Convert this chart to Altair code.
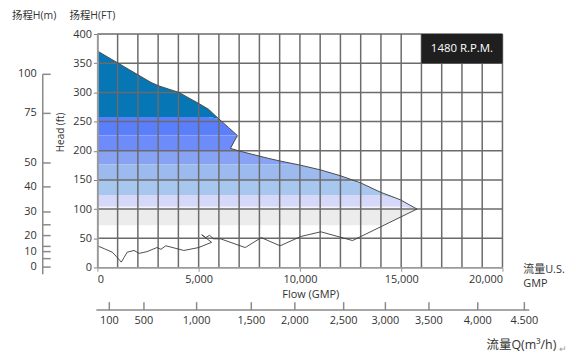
import altair as alt
import pandas as pd

# ---- data ----
# Head curve (upper boundary of shaded operating region), flow in US GPM, head in ft
head_flow = [0, 980, 2650, 3040, 4020, 5000, 5490, 5980, 6470, 6910, 6570, 7060,
             8430, 9070, 10050, 11030, 12010, 12990, 13970, 14950, 15780]
head_ft = [371, 351, 317, 311, 300, 281, 271, 255, 240, 226, 204, 199,
           187, 182, 175, 167, 157, 145, 129, 116, 100]
NOTCH = 10  # index of the point where the head curve turns back (the notch)

# Lower line (bottom boundary)
low_flow = [0, 340, 735, 930, 1180, 1320, 1470, 1810, 2060, 2450, 2940, 3140, 3380,
            4270, 5000, 5640, 5150, 5340, 5540, 5740, 6080, 7300, 8090, 9020,
            10050, 11030, 12600, 15780]
low_ft = [37, 32, 26, 19, 9, 17, 26, 29, 24, 27, 34, 31, 37,
          29, 34, 43, 56, 51, 55, 49, 49, 34, 51, 37,
          53, 61, 46, 100]

# Horizontal colour bands of the shaded region: lower edge (ft), upper edge (ft), colour
band_lo = [258, 226, 200, 177, 150, 124, 104, 100, 72, 0]
band_hi = [400, 258, 226, 200, 177, 150, 124, 104, 100, 72]
band_colors = ["#0676B5", "#5B7EFB", "#6E8BFA", "#88A2F4", "#9DBAEF",
               "#A8C7EE", "#D5D8F8", "#F4F4F8", "#ECECEC", "#FFFFFF"]

# Grid / tick values
x_grid = list(range(1000, 20001, 1000))
y_grid = list(range(50, 401, 50))
x_labels = list(range(0, 20001, 5000))
y_labels = list(range(0, 401, 50))

# Secondary head axis in metres (positions on the ft scale)
m_labels = ["100", "75", "50", "40", "30", "", "20", "", "10", "", "0"]
m_pos_ft = [331, 264, 179, 138, 95, 73, 54.5, 36, 27, 15, 0.5]

# Secondary flow axis in m3/h (positions on the GPM scale)
q_labels = ["100", "500", "1,000", "1,500", "2,000", "2,500", "3,000", "3,500", "4,000", "4.500"]
q_pos_gpm = [590, 2300, 4900, 7600, 9750, 12160, 14220, 16370, 18780, 21080]

# Speed box
rpm_text = "1480 R.P.M."
rpm_flow = [16000, 20000]
rpm_head = [350, 400]

FONT = "Open Sans, Noto Sans CJK SC"
TXT = "#333333"
GRID = "#6b6b6b"
AX = "#8a8a8a"

xs = alt.Scale(domain=[0, 20000], nice=False, zero=False)
ys = alt.Scale(domain=[0, 400], nice=False, zero=False)

# identical axis definitions used by every layer so that they merge cleanly
ax_x = alt.Axis(values=x_labels, labelExpr="format(datum.value, ',')", grid=False,
                title=None, zindex=1,
                domainColor="#9a9a9a", domainWidth=2, tickColor="#9a9a9a", tickSize=4,
                labelPadding=2, labelFontSize=11, labelColor=TXT, labelFont=FONT)
ax_y = alt.Axis(values=y_labels, grid=False, title=None, zindex=1,
                domainColor="#9a9a9a", domainWidth=2, tickColor="#808080", tickSize=4,
                labelPadding=2, labelFontSize=11, labelColor=TXT, labelFont=FONT)


def X(f):
    return alt.X(f, scale=xs, axis=ax_x)


def Y(f):
    return alt.Y(f, scale=ys, axis=ax_y)


head_df = pd.DataFrame({"flow": head_flow, "ft": head_ft, "i": range(len(head_flow))})
low_df = pd.DataFrame({"flow": low_flow, "ft": low_ft, "base": 0,
                       "i": range(len(low_flow))})

# coloured bands (x-monotone fill; notch point handled separately)
bands = []
for lo, hi, c in zip(band_lo, band_hi, band_colors):
    bands.append(
        alt.Chart(head_df).transform_filter(f"datum.i != {NOTCH}").transform_calculate(
            yt=f"min(datum.ft, {hi})", yb=f"min(datum.ft, {lo})"
        ).mark_area(fill=c, stroke=None, fillOpacity=1, opacity=1).encode(
            x=X("flow:Q"), y=Y("yt:Q"), y2="yb:Q",
        )
    )

# white wedge that opens the notch of the head curve
a, b, n = NOTCH - 1, NOTCH, NOTCH + 1
seg = lambda x: head_ft[b] + (head_ft[n] - head_ft[b]) * (x - head_flow[b]) / (head_flow[n] - head_flow[b])
wedge_df = pd.DataFrame({
    "flow": [head_flow[b], head_flow[a], head_flow[n]],
    "yt": [head_ft[b], head_ft[a], head_ft[n]],
    "yb": [head_ft[b], seg(head_flow[a]), head_ft[n]],
})
wedge = alt.Chart(wedge_df).mark_area(fill="white", fillOpacity=1, opacity=1).encode(
    x=X("flow:Q"), y=Y("yt:Q"), y2="yb:Q")

cover = alt.Chart(low_df).transform_filter("datum.i >= 20").mark_area(
    fill="white", fillOpacity=1, opacity=1
).encode(x=X("flow:Q"), y=Y("ft:Q"), y2="base:Q")

vgrid = alt.Chart(pd.DataFrame({"g": x_grid})).mark_rule(
    color=GRID, strokeWidth=1.5).encode(x=X("g:Q"))
hgrid = alt.Chart(pd.DataFrame({"g": y_grid})).mark_rule(
    color=GRID, strokeWidth=1.5).encode(y=Y("g:Q"))

top_line = alt.Chart(head_df).mark_line(color="#4a4a4a", strokeWidth=1).encode(
    x=X("flow:Q"), y=Y("ft:Q"), order=alt.Order("i:Q"))
low_line = alt.Chart(low_df).mark_line(color="#3a3a3a", strokeWidth=0.9).encode(
    x=X("flow:Q"), y=Y("ft:Q"), order=alt.Order("i:Q"))

rpm_df = pd.DataFrame({"x1": [rpm_flow[0]], "x2": [rpm_flow[1]],
                       "y1": [rpm_head[0]], "y2": [rpm_head[1]], "t": [rpm_text]})
rpm_box = alt.Chart(rpm_df).mark_rect(color="#1f1f1f").encode(
    x=X("x1:Q"), x2="x2:Q", y=Y("y1:Q"), y2="y2:Q")
rpm_lab = alt.Chart(rpm_df).transform_calculate(
    xm="(datum.x1 + datum.x2) / 2", ym="(datum.y1 + datum.y2) / 2"
).mark_text(color="white", font=FONT, fontSize=11.5, fontWeight=500).encode(
    x=X("xm:Q"), y=Y("ym:Q"), text="t:N")

# metres axis (left)
m_df = pd.DataFrame({"pos": m_pos_ft, "lab": m_labels})
m_line = alt.Chart(pd.DataFrame({"p": [m_pos_ft[0]]})).mark_rule(
    color=AX, strokeWidth=1.5).encode(x=alt.value(-55), y=Y("p:Q"), y2=alt.value(242))
m_ticks = alt.Chart(m_df).mark_rule(color=AX, strokeWidth=1.5).encode(
    x=alt.value(-55), x2=alt.value(-47), y=Y("pos:Q"))
m_text = alt.Chart(m_df).mark_text(
    align="right", baseline="middle", font=FONT, fontSize=11, color=TXT
).encode(x=alt.value(-61), y=Y("pos:Q"), text="lab:N")

# m3/h axis (bottom)
q_df = pd.DataFrame({"pos": q_pos_gpm, "lab": q_labels})
q_line = alt.Chart(pd.DataFrame({"p": [0]})).mark_rule(color=AX, strokeWidth=1.5).encode(
    x=alt.value(-1), x2=alt.value(435), y=alt.value(278))
q_ticks = alt.Chart(q_df).mark_rule(color=AX, strokeWidth=1.5).encode(
    x=X("pos:Q"), y=alt.value(270), y2=alt.value(278))
q_text = alt.Chart(q_df).mark_text(
    align="center", baseline="middle", font=FONT, fontSize=11, color=TXT
).encode(x=X("pos:Q"), y=alt.value(289), text="lab:N")

one = pd.DataFrame({"k": [0]})


def label(text, x, y, size=11, align="left", angle=0, color=TXT):
    kw = dict(text=text, x=x, y=y, fontSize=size, align=align, baseline="middle",
              font=FONT, color=color)
    if angle:
        kw["angle"] = angle
    return alt.Chart(one).mark_text(**kw).encode(opacity=alt.value(1))


texts = [
    label("扬程H(m)", -86, -18, size=10.5),
    label("扬程H(FT)", -28, -18, size=10.5),
    label("Head (ft)", -37, 99, size=10, align="center", angle=270),
    label("Flow (GMP)", 215, 262.5, align="center"),
    label("流量U.S.", 429, 237.5),
    label("GMP", 429, 251.5),
    label("流量Q(m³/h)", 392, 313, size=12.5),
    label("↵", 465, 317, size=9, color="#999999"),
]

chart = alt.layer(
    *bands, wedge, cover, vgrid, hgrid, top_line, low_line, rpm_box, rpm_lab,
    m_line, m_ticks, m_text, q_line, q_ticks, q_text, *texts
).properties(
    width=408, height=235,
    autosize=alt.AutoSizeParams(type="none"),
    padding={"left": 90, "top": 25, "right": 66, "bottom": 86},
).configure_view(stroke=None)

chart.save("out.html", embed_options={"renderer": "svg", "actions": False})
